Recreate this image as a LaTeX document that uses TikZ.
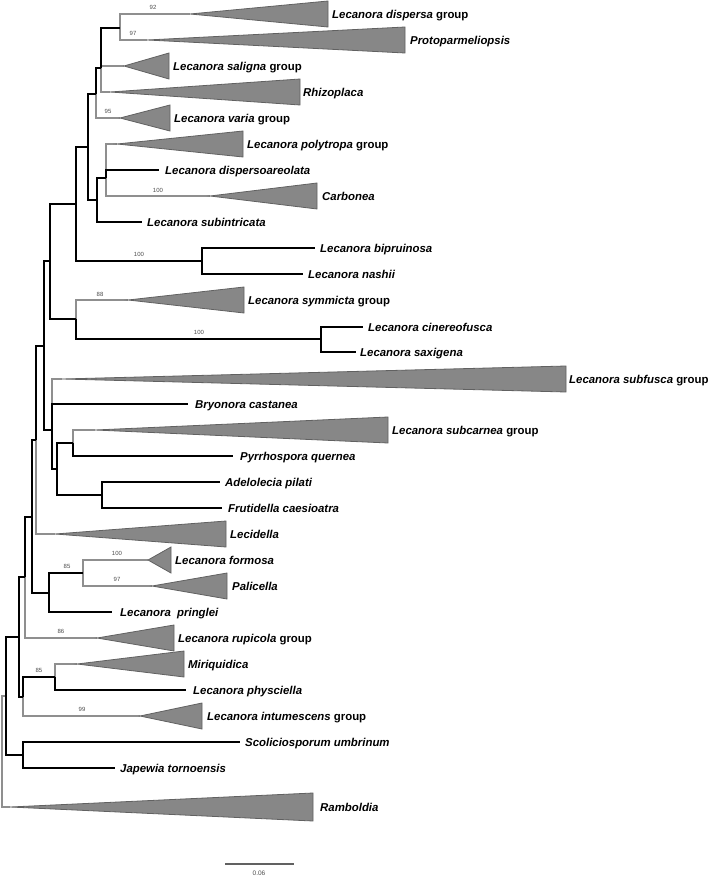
\documentclass[tikz,border=0pt]{standalone}
\usepackage{fontspec}
\setmainfont{Liberation Sans}
\newlength{\du}
\setlength{\du}{1pt}
\definecolor{branchgrey}{rgb}{0.560000, 0.560000, 0.560000}
\definecolor{cladefill}{rgb}{0.530000, 0.530000, 0.530000}
\definecolor{cladeline}{rgb}{0.380000, 0.380000, 0.380000}
\definecolor{bootgrey}{rgb}{0.300000, 0.300000, 0.300000}
\tikzset{
  taxon/.style={anchor=west, inner sep=0pt, text height=8.2\du, text depth=0pt, font=\fontsize{11.4}{13}\selectfont\bfseries},
  boot/.style={inner sep=0pt, text=bootgrey, font=\fontsize{6}{7}\selectfont},
  blackbranch/.style={draw=black, line width=1.3\du},
  greybranch/.style={draw=branchgrey, line width=1.1\du},
  clade/.style={fill=cladefill, draw=cladeline, line width=0.8\du, line join=miter}
}

\begin{document}
\begin{tikzpicture}
\pgftransformxscale{1.000000}
\pgftransformyscale{-1.000000}
\useasboundingbox (0\du,0\du) rectangle (709\du,877\du);
% tips
\coordinate (dispersa) at (190\du,14\du);
\coordinate (protoparm) at (147\du,40\du);
\coordinate (saligna) at (124\du,66\du);
\coordinate (rhizoplaca) at (110\du,92\du);
\coordinate (varia) at (120\du,118\du);
\coordinate (polytropa) at (117\du,144\du);
\coordinate (dispersoar) at (159\du,170\du);
\coordinate (carbonea) at (210\du,196\du);
\coordinate (subintric) at (142\du,222\du);
\coordinate (bipruinosa) at (315\du,248\du);
\coordinate (nashii) at (303\du,274\du);
\coordinate (symmicta) at (128\du,300\du);
\coordinate (cinereof) at (363\du,327\du);
\coordinate (saxigena) at (356\du,352\du);
\coordinate (subfusca) at (62\du,379\du);
\coordinate (bryonora) at (188\du,404\du);
\coordinate (subcarnea) at (95\du,430\du);
\coordinate (pyrrho) at (233\du,456\du);
\coordinate (adelolecia) at (220\du,482\du);
\coordinate (frutidella) at (222\du,508\du);
\coordinate (lecidella) at (55\du,534\du);
\coordinate (formosa) at (148\du,560\du);
\coordinate (palicella) at (152\du,586\du);
\coordinate (pringlei) at (112\du,612\du);
\coordinate (rupicola) at (97\du,638\du);
\coordinate (miriquid) at (77\du,664\du);
\coordinate (physciella) at (186\du,690\du);
\coordinate (intumesc) at (140\du,716\du);
\coordinate (scolicio) at (240\du,742\du);
\coordinate (japewia) at (115\du,768\du);
\coordinate (ramboldia) at (10\du,807\du);
% inner nodes
\coordinate (nA) at (120\du,28\du);
\coordinate (nC) at (101\du,68\du);
\coordinate (nB) at (96\du,94\du);
\coordinate (nF) at (106\du,178\du);
\coordinate (nG) at (97\du,200\du);
\coordinate (nD) at (88\du,147\du);
\coordinate (nBN) at (202\du,261\du);
\coordinate (nH) at (76\du,204\du);
\coordinate (nCS) at (321\du,339\du);
\coordinate (nJ) at (76\du,319\du);
\coordinate (nI) at (50\du,261\du);
\coordinate (nL) at (73\du,443\du);
\coordinate (nAF) at (102\du,495\du);
\coordinate (nM) at (57\du,469\du);
\coordinate (nN) at (52\du,430\du);
\coordinate (nK) at (44\du,346\du);
\coordinate (nO) at (36\du,440\du);
\coordinate (nR) at (83\du,573\du);
\coordinate (nQ) at (49\du,593\du);
\coordinate (nP) at (32\du,517\du);
\coordinate (nS) at (25\du,577\du);
\coordinate (nV) at (55\du,677\du);
\coordinate (nU) at (23\du,697\du);
\coordinate (nT) at (19\du,637\du);
\coordinate (nX) at (23\du,755\du);
\coordinate (nW) at (6\du,696\du);
\coordinate (root) at (2\du,751\du);
% grey branches
\draw[greybranch] (nA) |- (dispersa) (nA) |- (protoparm);
\draw[greybranch] (nC) |- (saligna) (nC) |- (rhizoplaca);
\draw[greybranch] (nB) |- (varia);
\draw[greybranch] (nF) |- (polytropa) (nF) |- (carbonea);
\draw[greybranch] (nJ) |- (symmicta);
\draw[greybranch] (nN) |- (subfusca);
\draw[greybranch] (nL) |- (subcarnea);
\draw[greybranch] (nO) |- (lecidella);
\draw[greybranch] (nR) |- (formosa) (nR) |- (palicella);
\draw[greybranch] (nS) |- (rupicola);
\draw[greybranch] (nV) |- (miriquid);
\draw[greybranch] (nU) |- (intumesc);
\draw[greybranch] (root) |- (ramboldia) (root) |- (nW);
% black branches
\draw[blackbranch] (nC) |- (nA) (nB) |- (nC) (nD) |- (nB);
\draw[blackbranch] (nF) |- (dispersoar) (nG) |- (nF) (nG) |- (subintric) (nD) |- (nG);
\draw[blackbranch] (nH) |- (nD) (nH) |- (nBN) (nBN) |- (bipruinosa) (nBN) |- (nashii);
\draw[blackbranch] (nI) |- (nH) (nI) |- (nJ) (nJ) |- (nCS) (nCS) |- (cinereof) (nCS) |- (saxigena);
\draw[blackbranch] (nK) |- (nI) (nK) |- (nN) (nN) |- (bryonora) (nN) |- (nM);
\draw[blackbranch] (nM) |- (nL) (nL) |- (pyrrho) (nM) |- (nAF) (nAF) |- (adelolecia) (nAF) |- (frutidella);
\draw[blackbranch] (nO) |- (nK) (nP) |- (nO) (nP) |- (nQ) (nQ) |- (nR) (nQ) |- (pringlei);
\draw[blackbranch] (nS) |- (nP) (nT) |- (nS) (nT) |- (nU) (nU) |- (nV) (nV) |- (physciella);
\draw[blackbranch] (nW) |- (nT) (nW) |- (nX) (nX) |- (scolicio) (nX) |- (japewia);
% collapsed clades
\filldraw[clade] (dispersa) -- (328\du,1\du) -- (328\du,27\du) -- cycle;
\filldraw[clade] (protoparm) -- (405\du,27\du) -- (405\du,53\du) -- cycle;
\filldraw[clade] (saligna) -- (169\du,53\du) -- (169\du,79\du) -- cycle;
\filldraw[clade] (rhizoplaca) -- (300\du,79\du) -- (300\du,105\du) -- cycle;
\filldraw[clade] (varia) -- (170\du,105\du) -- (170\du,131\du) -- cycle;
\filldraw[clade] (polytropa) -- (243\du,131\du) -- (243\du,157\du) -- cycle;
\filldraw[clade] (carbonea) -- (317\du,183\du) -- (317\du,209\du) -- cycle;
\filldraw[clade] (symmicta) -- (244\du,287\du) -- (244\du,313\du) -- cycle;
\filldraw[clade] (subfusca) -- (566\du,366\du) -- (566\du,392\du) -- cycle;
\filldraw[clade] (subcarnea) -- (388\du,417\du) -- (388\du,443\du) -- cycle;
\filldraw[clade] (lecidella) -- (226\du,521\du) -- (226\du,547\du) -- cycle;
\filldraw[clade] (formosa) -- (171\du,547\du) -- (171\du,573\du) -- cycle;
\filldraw[clade] (palicella) -- (227\du,573\du) -- (227\du,599\du) -- cycle;
\filldraw[clade] (rupicola) -- (174\du,625\du) -- (174\du,651\du) -- cycle;
\filldraw[clade] (miriquid) -- (184\du,651\du) -- (184\du,677\du) -- cycle;
\filldraw[clade] (intumesc) -- (202\du,703\du) -- (202\du,729\du) -- cycle;
\filldraw[clade] (ramboldia) -- (313\du,793\du) -- (313\du,821\du) -- cycle;
% taxon names
\node[taxon] (t-dispersa) at (332\du,14\du){\textit{Lecanora dispersa} group};
\node[taxon] (t-protoparm) at (410\du,40\du){\textit{Protoparmeliopsis}};
\node[taxon] (t-saligna) at (173\du,66\du){\textit{Lecanora saligna} group};
\node[taxon] (t-rhizoplaca) at (303\du,92\du){\textit{Rhizoplaca}};
\node[taxon] (t-varia) at (174\du,118\du){\textit{Lecanora varia} group};
\node[taxon] (t-polytropa) at (247\du,144\du){\textit{Lecanora polytropa} group};
\node[taxon] (t-dispersoar) at (165\du,170\du){\textit{Lecanora dispersoareolata}};
\node[taxon] (t-carbonea) at (322\du,196\du){\textit{Carbonea}};
\node[taxon] (t-subintric) at (147\du,222\du){\textit{Lecanora subintricata}};
\node[taxon] (t-bipruinosa) at (320\du,248\du){\textit{Lecanora bipruinosa}};
\node[taxon] (t-nashii) at (308\du,274\du){\textit{Lecanora nashii}};
\node[taxon] (t-symmicta) at (248\du,300\du){\textit{Lecanora symmicta} group};
\node[taxon] (t-cinereof) at (368\du,327\du){\textit{Lecanora cinereofusca}};
\node[taxon] (t-saxigena) at (360\du,352\du){\textit{Lecanora saxigena}};
\node[taxon] (t-subfusca) at (569\du,379\du){\textit{Lecanora subfusca} group};
\node[taxon] (t-bryonora) at (195\du,404\du){\textit{Bryonora castanea}};
\node[taxon] (t-subcarnea) at (392\du,430\du){\textit{Lecanora subcarnea} group};
\node[taxon] (t-pyrrho) at (240\du,456\du){\textit{Pyrrhospora quernea}};
\node[taxon] (t-adelolecia) at (225\du,482\du){\textit{Adelolecia pilati}};
\node[taxon] (t-frutidella) at (228\du,508\du){\textit{Frutidella caesioatra}};
\node[taxon] (t-lecidella) at (230\du,534\du){\textit{Lecidella}};
\node[taxon] (t-formosa) at (175\du,560\du){\textit{Lecanora formosa}};
\node[taxon] (t-palicella) at (232\du,586\du){\textit{Palicella}};
\node[taxon] (t-pringlei) at (120\du,612\du){\textit{Lecanora\ \ pringlei}};
\node[taxon] (t-rupicola) at (178\du,638\du){\textit{Lecanora rupicola} group};
\node[taxon] (t-miriquid) at (188\du,664\du){\textit{Miriquidica}};
\node[taxon] (t-physciella) at (193\du,690\du){\textit{Lecanora physciella}};
\node[taxon] (t-intumesc) at (207\du,716\du){\textit{Lecanora intumescens} group};
\node[taxon] (t-scolicio) at (245\du,742\du){\textit{Scoliciosporum umbrinum}};
\node[taxon] (t-japewia) at (120\du,768\du){\textit{Japewia tornoensis}};
\node[taxon] (t-ramboldia) at (320\du,807\du){\textit{Ramboldia}};
% support values
\node[boot] (b-92) at (153\du,7\du){92};
\node[boot] (b-97a) at (133\du,33\du){97};
\node[boot] (b-95) at (108\du,111\du){95};
\node[boot] (b-100a) at (158\du,190\du){100};
\node[boot] (b-100b) at (139\du,254\du){100};
\node[boot] (b-88) at (100\du,294\du){88};
\node[boot] (b-100c) at (199\du,332\du){100};
\node[boot] (b-100d) at (117\du,553\du){100};
\node[boot] (b-85a) at (67\du,566\du){85};
\node[boot] (b-97b) at (117\du,579\du){97};
\node[boot] (b-86) at (61\du,631\du){86};
\node[boot] (b-85b) at (39\du,670\du){85};
\node[boot] (b-99) at (82\du,709\du){99};
% scale bar
\coordinate (bar-l) at (225\du,864\du);
\coordinate (bar-r) at (294\du,864\du);
\draw[draw=cladeline, line width=1.1\du] (bar-l) -- (bar-r);
\node[boot, font=\fontsize{6.5}{7}\selectfont] (bar-txt) at (259\du,873\du){0.06};
\end{tikzpicture}
\end{document}
